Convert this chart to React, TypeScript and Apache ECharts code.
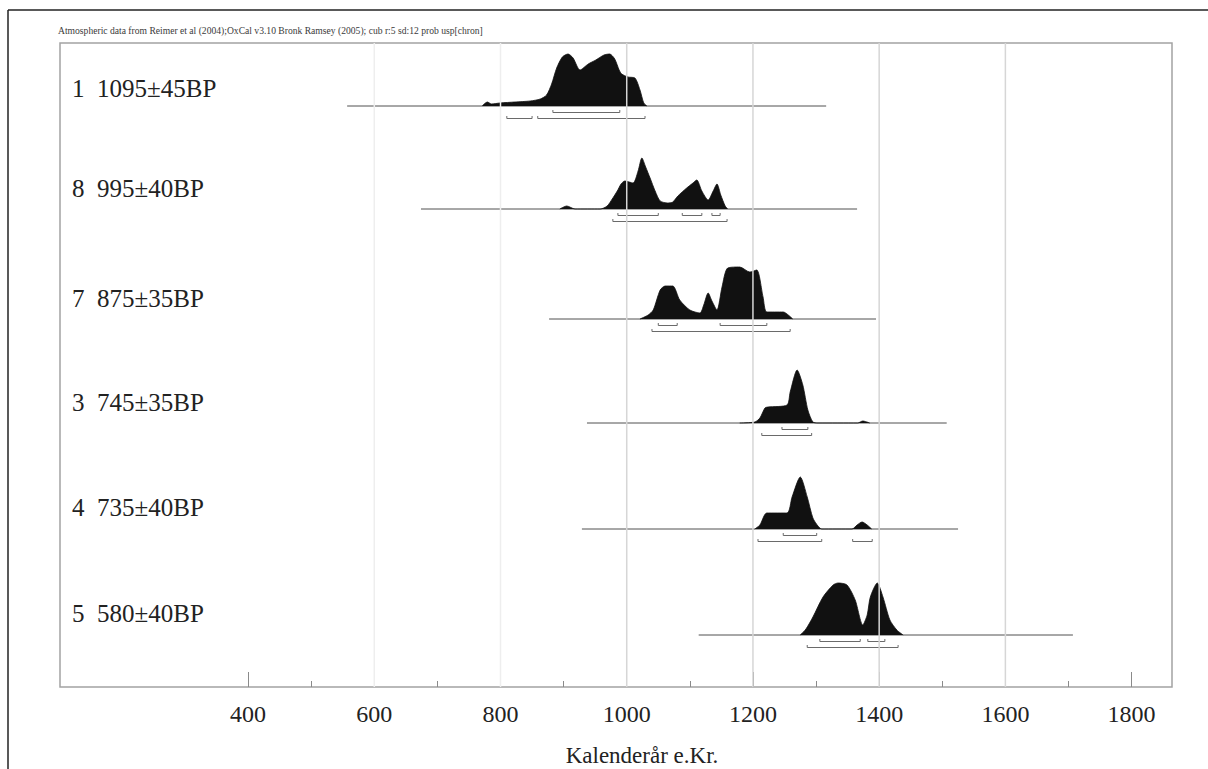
import React, { useEffect, useRef } from 'react';
import * as echarts from 'echarts';

// ---------- data ----------
const titleText =
  'Atmospheric data from Reimer et al (2004);OxCal v3.10 Bronk Ramsey (2005); cub r:5 sd:12 prob usp[chron]';
const axisTitle = 'Kalenderår e.Kr.';

const sampleIds = ['1', '8', '7', '3', '4', '5'];
const sampleDates = ['1095±45BP', '995±40BP', '875±35BP', '745±35BP', '735±40BP', '580±40BP'];

const majorTicks = [400, 600, 800, 1000, 1200, 1400, 1600, 1800];
const minorTicks = [500, 700, 900, 1100, 1300, 1500, 1700];
const gridYears = [1000, 1200, 1400, 1600];
const faintGridYears = [600, 800];

// extent of the horizontal line of each sample (calendar years)
const spans: [number, number][] = [
  [557, 1316],
  [674, 1365],
  [877, 1395],
  [937, 1507],
  [929, 1525],
  [1114, 1707],
];

// probability curves [year, relative probability]
const dens1: [number, number][] = [
  [771, 0], [779, 4], [786, 2], [799, 3], [823, 4], [847, 5], [863, 7], [873, 11],
  [881, 22], [889, 38], [898, 49], [907, 52], [915, 48], [926, 36], [939, 42], [951, 46],
  [964, 51], [973, 52], [981, 47], [988, 36], [992, 32], [1002, 29], [1013, 28], [1021, 16],
  [1027, 3], [1032, 0],
];
const dens8: [number, number][] = [
  [894, 0], [905, 3], [918, 0], [958, 0], [969, 3], [977, 10], [985, 18], [991, 25],
  [997, 28], [1010, 26], [1018, 38], [1024, 51], [1030, 42], [1037, 31], [1045, 18], [1053, 8],
  [1065, 6], [1073, 7], [1081, 13], [1095, 21], [1105, 26], [1111, 29], [1119, 18], [1129, 9],
  [1137, 18], [1143, 25], [1149, 14], [1156, 3], [1160, 0],
];
const dens7: [number, number][] = [
  [1021, 0], [1034, 4], [1042, 9], [1053, 29], [1061, 33], [1073, 33], [1084, 19], [1100, 9],
  [1116, 6], [1122, 14], [1129, 26], [1135, 18], [1143, 9], [1151, 32], [1160, 51], [1179, 52],
  [1195, 47], [1206, 49], [1216, 22], [1222, 7], [1248, 7], [1256, 4], [1263, 0],
];
const dens3: [number, number][] = [
  [1179, 0], [1203, 1], [1211, 5], [1219, 15], [1224, 16], [1254, 18], [1259, 31], [1270, 53],
  [1279, 38], [1287, 13], [1295, 1], [1303, 0], [1366, 0], [1374, 2], [1385, 0],
];
const dens4: [number, number][] = [
  [1203, 0], [1211, 4], [1222, 16], [1254, 16], [1262, 32], [1275, 52], [1286, 32], [1295, 11],
  [1303, 3], [1309, 0], [1357, 0], [1365, 4], [1373, 7], [1381, 4], [1388, 0],
];
const dens5: [number, number][] = [
  [1275, 0], [1284, 6], [1295, 18], [1311, 38], [1327, 50], [1335, 52], [1349, 50], [1362, 35],
  [1374, 10], [1381, 20], [1386, 38], [1397, 52], [1406, 38], [1417, 15], [1428, 5], [1438, 0],
];
const densities = [dens1, dens8, dens7, dens3, dens4, dens5];

// 68.2% and 95.4% ranges (calendar years)
const ranges68: [number, number][][] = [
  [[883, 989]],
  [[986, 1050], [1088, 1119], [1135, 1148]],
  [[1050, 1080], [1148, 1222]],
  [[1246, 1287]],
  [[1248, 1301]],
  [[1306, 1370], [1382, 1409]],
];
const ranges95: [number, number][][] = [
  [[810, 850], [859, 1029]],
  [[978, 1159]],
  [[1040, 1259]],
  [[1214, 1293]],
  [[1208, 1309], [1358, 1389]],
  [[1286, 1430]],
];

// ---------- layout ----------
const X_MIN = 102;
const X_MAX = 1864;
const PLOT_LEFT = 60;
const PLOT_TOP = 43;
const PLOT_W = 1112;
const PLOT_H = 644;
const baselines = [106, 209, 319, 423, 529, 635];
const labelCenters = [88, 188, 298, 402, 507, 613];
const SERIF = "'Liberation Serif', 'Times New Roman', serif";

function buildOption(): any {
  const grids: any[] = [
    {
      left: PLOT_LEFT, top: PLOT_TOP, width: PLOT_W, height: PLOT_H,
      show: true, borderColor: '#a3a3a3', borderWidth: 1.5, backgroundColor: 'transparent',
      containLabel: false, outerBoundsMode: 'none',
    },
  ];
  const xAxes: any[] = [
    {
      type: 'value', gridIndex: 0, min: X_MIN, max: X_MAX, position: 'bottom',
      axisLine: { show: false },
      splitLine: { show: false },
      axisTick: { show: true, inside: true, length: 15, customValues: majorTicks, lineStyle: { color: '#8a8a8a', width: 1 } },
      axisLabel: {
        show: true, customValues: majorTicks, margin: 15, fontSize: 24, fontFamily: SERIF, color: '#222',
        formatter: (v: number) => String(v),
      },
    },
    {
      type: 'value', gridIndex: 0, min: X_MIN, max: X_MAX, position: 'bottom',
      axisLine: { show: false },
      splitLine: { show: false },
      axisTick: { show: true, inside: true, length: 6, customValues: minorTicks, lineStyle: { color: '#8a8a8a', width: 1 } },
      axisLabel: { show: false },
    },
  ];
  const yAxes: any[] = [
    { type: 'value', gridIndex: 0, min: 0, max: 1, show: false },
  ];
  const series: any[] = [];

  const addGridLine = (g: number, color: string) => {
    series.push({
      type: 'line', xAxisIndex: 0, yAxisIndex: 0, z: 10, symbol: 'none', silent: true,
      data: [[g, 0], [g, 1]],
      lineStyle: { color, width: 1.5 },
    });
  };
  gridYears.forEach((g) => addGridLine(g, '#d6d6d6'));
  faintGridYears.forEach((g) => addGridLine(g, '#eeeeee'));

  sampleIds.forEach((_, i) => {
    const base = baselines[i];
    grids.push({
      left: PLOT_LEFT, top: base - 60, width: PLOT_W, height: 75,
      containLabel: false, outerBoundsMode: 'none',
    });
    xAxes.push({ type: 'value', gridIndex: i + 1, min: X_MIN, max: X_MAX, show: false });
    yAxes.push({ type: 'value', gridIndex: i + 1, min: -15, max: 60, show: false });
    const xi = i + 2;
    const yi = i + 1;
    series.push({
      type: 'line', xAxisIndex: xi, yAxisIndex: yi, symbol: 'none', silent: true, z: 2,
      data: [[spans[i][0], 0], [spans[i][1], 0]],
      lineStyle: { color: '#505050', width: 1 },
    });
    series.push({
      type: 'line', xAxisIndex: xi, yAxisIndex: yi, symbol: 'none', silent: true, z: 3,
      smooth: 0.25,
      data: densities[i],
      lineStyle: { color: '#111', width: 0.8 },
      areaStyle: { color: '#111', opacity: 1, origin: 0 },
    });
    const addBracket = (r: [number, number], off: number) => {
      series.push({
        type: 'line', xAxisIndex: xi, yAxisIndex: yi, symbol: 'none', silent: true, z: 3,
        data: [[r[0], -off + 2.5], [r[0], -off], [r[1], -off], [r[1], -off + 2.5]],
        lineStyle: { color: '#6a6a6a', width: 1 },
      });
    };
    ranges68[i].forEach((r) => addBracket(r, 6.5));
    ranges95[i].forEach((r) => addBracket(r, 12.5));
  });

  const graphics: any[] = [
    { type: 'line', shape: { x1: 8, y1: 10, x2: 1208, y2: 10 }, style: { stroke: '#222', lineWidth: 1.5 }, silent: true },
    { type: 'line', shape: { x1: 8, y1: 10, x2: 8, y2: 769 }, style: { stroke: '#222', lineWidth: 1.5 }, silent: true },
    {
      type: 'text', x: 58, y: 30,
      style: { text: titleText, font: `9.6px ${SERIF}`, fill: '#3a3a3a', align: 'left', verticalAlign: 'middle', textAlign: 'left', textVerticalAlign: 'middle' },
    },
    {
      type: 'text', x: 642, y: 755,
      style: { text: axisTitle, font: `23px ${SERIF}`, fill: '#222', align: 'center', verticalAlign: 'middle', textAlign: 'center', textVerticalAlign: 'middle' },
    },
  ];
  sampleIds.forEach((id, i) => {
    graphics.push({
      type: 'text', x: 72, y: labelCenters[i],
      style: { text: id, font: `25px ${SERIF}`, fill: '#222', align: 'left', verticalAlign: 'middle', textAlign: 'left', textVerticalAlign: 'middle' },
    });
    graphics.push({
      type: 'text', x: 97, y: labelCenters[i],
      style: { text: sampleDates[i], font: `25px ${SERIF}`, fill: '#222', align: 'left', verticalAlign: 'middle', textAlign: 'left', textVerticalAlign: 'middle' },
    });
  });

  return {
    animation: false,
    backgroundColor: '#ffffff',
    grid: grids,
    xAxis: xAxes,
    yAxis: yAxes,
    series,
    graphic: graphics,
  };
}

export default function App() {
  const ref = useRef<HTMLDivElement | null>(null);
  useEffect(() => {
    if (!ref.current) return;
    const chart = echarts.init(ref.current, undefined, { renderer: 'svg' });
    chart.setOption(buildOption());
    return () => chart.dispose();
  }, []);
  return (
    <div
      ref={ref}
      style={{ position: 'fixed', left: 0, top: 0, width: 1208, height: 769, background: '#fff' }}
    />
  );
}
